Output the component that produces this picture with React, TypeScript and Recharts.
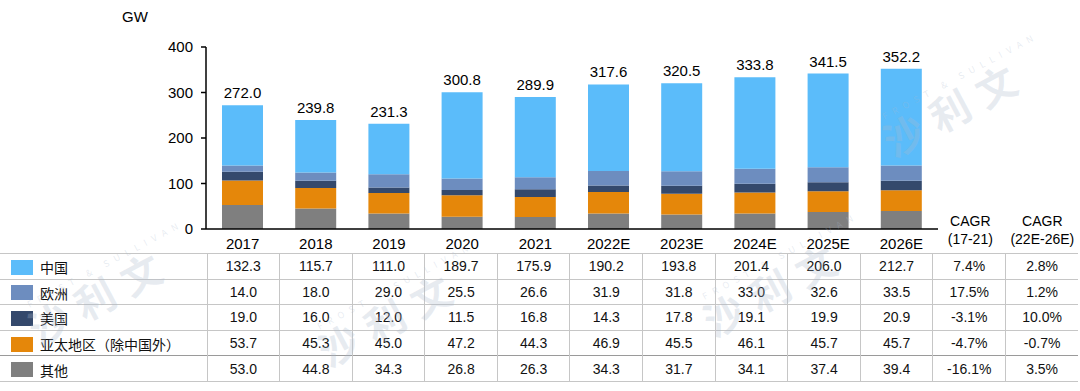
import React from "react";
import { BarChart, Bar, XAxis, YAxis, LabelList } from "recharts";

const years = ["2017", "2018", "2019", "2020", "2021", "2022E", "2023E", "2024E", "2025E", "2026E"];
const china = [132.3, 115.7, 111.0, 189.7, 175.9, 190.2, 193.8, 201.4, 206.0, 212.7];
const europe = [14.0, 18.0, 29.0, 25.5, 26.6, 31.9, 31.8, 33.0, 32.6, 33.5];
const usa = [19.0, 16.0, 12.0, 11.5, 16.8, 14.3, 17.8, 19.1, 19.9, 20.9];
const apac = [53.7, 45.3, 45.0, 47.2, 44.3, 46.9, 45.5, 46.1, 45.7, 45.7];
const other = [53.0, 44.8, 34.3, 26.8, 26.3, 34.3, 31.7, 34.1, 37.4, 39.4];
const totals = [272.0, 239.8, 231.3, 300.8, 289.9, 317.6, 320.5, 333.8, 341.5, 352.2];
const cagr1721 = ["7.4%", "17.5%", "-3.1%", "-4.7%", "-16.1%"];
const cagr2226 = ["2.8%", "1.2%", "10.0%", "-0.7%", "3.5%"];
const yTicks = [0, 100, 200, 300, 400];

// table rows, top to bottom (stack is drawn bottom-up)
const rows = [
  { key: "china", name: "中国", color: "#5BBCFA", values: china },
  { key: "europe", name: "欧洲", color: "#6D8DBF", values: europe },
  { key: "usa", name: "美国", color: "#34496C", values: usa },
  { key: "apac", name: "亚太地区（除中国外）", color: "#E5870A", values: apac },
  { key: "other", name: "其他", color: "#7F7F7F", values: other },
];

const data = years.map((year, i) => ({
  year,
  china: china[i],
  europe: europe[i],
  usa: usa[i],
  apac: apac[i],
  other: other[i],
  total: totals[i],
}));

const FONT = "'Liberation Sans', Arial, 'Noto Sans CJK SC', sans-serif";
const CJK = "'Noto Sans CJK SC', 'Liberation Sans', sans-serif";

const XTick = (props: any) => (
  <text x={props.x} y={249} textAnchor="middle" fontSize={15} fill="#000" fontFamily={FONT}>
    {props.payload.value}
  </text>
);

const TotalLabel = (props: any) => {
  const { x, y, width, index } = props;
  return (
    <text x={x + width / 2} y={y - 7} textAnchor="middle" fontSize={15} fill="#000" fontFamily={FONT}>
      {totals[index].toFixed(1)}
    </text>
  );
};

// faint "沙利文" watermarks, kept inside the frame
const marks = [
  { left: 40, top: 300 },
  { left: 330, top: 322 },
  { left: 715, top: 292 },
  { left: 895, top: 112 },
];

function Watermark({ left, top }: { left: number; top: number }) {
  return (
    <div
      style={{
        position: "absolute",
        left,
        top,
        transform: "rotate(-28deg)",
        transformOrigin: "left bottom",
        color: "rgba(170,185,205,0.28)",
        fontFamily: CJK,
        pointerEvents: "none",
        whiteSpace: "nowrap",
        lineHeight: 1,
      }}
    >
      <div style={{ fontSize: 9, letterSpacing: 6, marginLeft: 10 }}>FROST &amp; SULLIVAN</div>
      <div style={{ fontSize: 40, fontWeight: 700, letterSpacing: 12 }}>沙利文</div>
    </div>
  );
}

const colW = 72.6;
const cell: React.CSSProperties = {
  borderTop: "1px solid #c6c6c6",
  borderLeft: "1px solid #c6c6c6",
  textAlign: "center",
  fontSize: 14,
  padding: 0,
  height: 24.6,
  color: "#111",
};

export default function App() {
  return (
    <div
      style={{
        position: "absolute",
        left: 0,
        top: 0,
        width: 1080,
        height: 391,
        background: "#fff",
        fontFamily: FONT,
        overflow: "hidden",
      }}
    >
      <div style={{ position: "absolute", left: 122, top: 8, fontSize: 15, color: "#000" }}>GW</div>

      <div style={{ position: "absolute", left: 0, top: 0 }}>
        <BarChart
          width={1080}
          height={262}
          data={data}
          margin={{ top: 47, right: 142, bottom: 3, left: 146 }}
        >
          <XAxis
            dataKey="year"
            height={30}
            tickLine={false}
            axisLine={{ stroke: "#000", strokeWidth: 1.5 }}
            tick={<XTick />}
            interval={0}
          />
          <YAxis
            width={60}
            domain={[0, 400]}
            ticks={yTicks}
            tickSize={5}
            tickMargin={8}
            axisLine={{ stroke: "#000", strokeWidth: 1.5 }}
            tickLine={{ stroke: "#000", strokeWidth: 1.5 }}
            tick={{ fontSize: 15, fill: "#000", fontFamily: FONT }}
          />
          <Bar dataKey="other" stackId="a" fill="#7F7F7F" barSize={41} isAnimationActive={false} />
          <Bar dataKey="apac" stackId="a" fill="#E5870A" barSize={41} isAnimationActive={false} />
          <Bar dataKey="usa" stackId="a" fill="#34496C" barSize={41} isAnimationActive={false} />
          <Bar dataKey="europe" stackId="a" fill="#6D8DBF" barSize={41} isAnimationActive={false} />
          <Bar dataKey="china" stackId="a" fill="#5BBCFA" barSize={41} isAnimationActive={false}>
            <LabelList dataKey="total" content={<TotalLabel />} />
          </Bar>
        </BarChart>
      </div>

      <div style={{ position: "absolute", left: 934, top: 212, width: colW, textAlign: "center", fontSize: 14, lineHeight: "18px" }}>
        CAGR
        <br />
        (17-21)
      </div>
      <div style={{ position: "absolute", left: 1006, top: 212, width: colW, textAlign: "center", fontSize: 14, lineHeight: "18px" }}>
        CAGR
        <br />
        (22E-26E)
      </div>

      <table
        style={{
          position: "absolute",
          left: 0,
          top: 253,
          borderCollapse: "collapse",
          tableLayout: "fixed",
          width: 207 + colW * 12,
          borderBottom: "1px solid #c6c6c6",
        }}
      >
        <colgroup>
          <col style={{ width: 207 }} />
          {Array.from({ length: 12 }).map((_, i) => (
            <col key={i} style={{ width: colW }} />
          ))}
        </colgroup>
        <tbody>
          {rows.map((r, ri) => {
            const top = ri === 4 ? "1px solid #9a9a9a" : cell.borderTop;
            return (
              <tr key={r.key}>
                <td
                  style={{
                    ...cell,
                    borderLeft: "none",
                    borderTop: top,
                    textAlign: "left",
                    fontFamily: CJK,
                    whiteSpace: "nowrap",
                  }}
                >
                  <span
                    style={{
                      display: "inline-block",
                      width: 22,
                      height: 15,
                      background: r.color,
                      marginLeft: 11,
                      marginRight: 7,
                      verticalAlign: "middle",
                    }}
                  />
                  <span style={{ verticalAlign: "middle" }}>{r.name}</span>
                </td>
                {r.values.map((v, i) => (
                  <td key={i} style={{ ...cell, borderTop: top }}>
                    {v.toFixed(1)}
                  </td>
                ))}
                <td style={{ ...cell, borderTop: top }}>{cagr1721[ri]}</td>
                <td style={{ ...cell, borderTop: top }}>{cagr2226[ri]}</td>
              </tr>
            );
          })}
        </tbody>
      </table>

      {marks.map((m, i) => (
        <Watermark key={i} left={m.left} top={m.top} />
      ))}
    </div>
  );
}
